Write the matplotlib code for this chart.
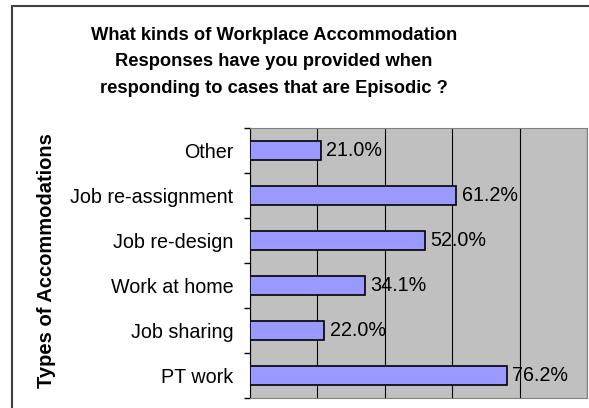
import matplotlib
matplotlib.use('Agg')

import matplotlib.pyplot as plt
from matplotlib.patches import Rectangle

plt.rcParams['font.family'] = ['Liberation Sans', 'DejaVu Sans']

## categories from bottom to top, as drawn
categories = ['PT work', 'Job sharing', 'Work at home', 'Job re-design',
              'Job re-assignment', 'Other']
values = [76.2, 22.0, 34.1, 52.0, 61.2, 21.0]
xticks = [0, 20, 40, 60, 80, 100]

title = ('What kinds of Workplace Accommodation\n'
         'Responses have you provided when\n'
         'responding to cases that are Episodic ?')

fig = plt.figure(figsize=(5.89, 4.08), dpi=100)

## outer chart frame
fig.patches.append(Rectangle((11.5 / 589, -0.05), 1.1, 1.05 - 6.5 / 408,
                             transform=fig.transFigure, fill=False,
                             edgecolor='#404040', linewidth=1.5))

ax = fig.add_axes([250 / 589, 10 / 408, 337 / 589, 270 / 408])
ax.set_facecolor('#C0C0C0')

pos = list(range(len(categories)))
ax.barh(pos, values, height=0.42, color='#9999FF', edgecolor='black',
        linewidth=1.2, zorder=3)
for p, v in zip(pos, values):
    ax.text(v + 1.6, p, '%.1f%%' % v, va='center', ha='left', fontsize=14.2,
            zorder=4)

ax.set_xlim(0, 100)
ax.set_ylim(-0.5, len(categories) - 0.5)
ax.set_xticks(xticks)
ax.xaxis.grid(True, color='black', linewidth=0.8, zorder=1)
ax.tick_params(axis='x', length=0, labelbottom=False)

ax.set_yticks(pos)
ax.set_yticklabels(categories, fontsize=14.2)
ax.set_yticks([p - 0.5 for p in pos] + [len(categories) - 0.5], minor=True)
ax.tick_params(axis='y', which='major', length=0, pad=12)
ax.tick_params(axis='y', which='minor', length=4, width=1, color='black')

for s in ['top', 'right', 'bottom']:
    ax.spines[s].set_color('#808080')
ax.spines['left'].set_color('black')

fig.text(47 / 589, 1 - 261 / 408, 'Types of Accommodations', rotation=90,
         ha='center', va='center', fontsize=14.5, fontweight='bold')

fig.text(274 / 589, 1 - 62 / 408, title, ha='center', va='center',
         fontsize=13.2, fontweight='bold', linespacing=1.75)

plt.savefig('out.png', dpi=100)
